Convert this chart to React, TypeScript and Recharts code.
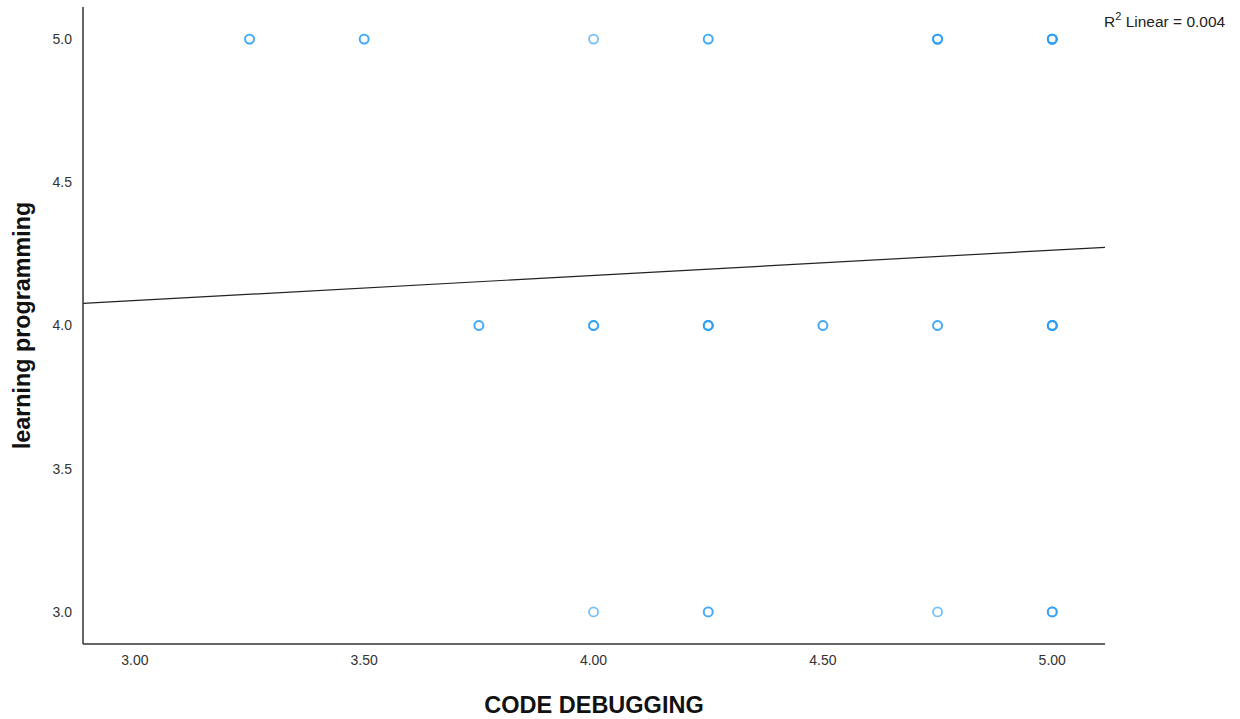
import { ScatterChart, Scatter, XAxis, YAxis, ReferenceLine } from 'recharts';

// CODE DEBUGGING score, learning programming score, and number of overlapping cases
const debugScores = [3.25, 3.5, 4.0, 4.25, 4.75, 5.0, 3.75, 4.0, 4.25, 4.5, 4.75, 5.0, 4.0, 4.25, 4.75, 5.0];
const programmingScores = [5, 5, 5, 5, 5, 5, 4, 4, 4, 4, 4, 4, 3, 3, 3, 3];
const caseCounts = [2, 2, 1, 2, 4, 5, 2, 3, 4, 2, 2, 5, 1, 2, 1, 3];

// linear fit line endpoints (R² = 0.004)
const fitLine = [
  { x: 2.887, y: 4.077 },
  { x: 5.115, y: 4.273 },
];

const xTicks = [3.0, 3.5, 4.0, 4.5, 5.0];
const yTicks = [3.0, 3.5, 4.0, 4.5, 5.0];

const points: { x: number; y: number }[] = [];
debugScores.forEach((x, i) => {
  for (let k = 0; k < caseCounts[i]; k++) points.push({ x, y: programmingScores[i] });
});

const Ring = (props: any) => {
  const { cx, cy } = props;
  if (cx == null || cy == null) return null;
  return <circle cx={cx} cy={cy} r={4.5} fill="none" stroke="#2a9ef7" strokeOpacity={0.65} strokeWidth={1.8} />;
};

export default function App() {
  const font = 'Arial, "Liberation Sans", sans-serif';
  return (
    <div style={{ position: 'absolute', left: 0, top: 0, width: 1240, height: 719, background: '#fff', fontFamily: font }}>
      <ScatterChart width={1240} height={719} margin={{ top: 7, right: 135, bottom: 0, left: 0 }}>
        <XAxis
          type="number"
          dataKey="x"
          domain={[2.887, 5.115]}
          allowDataOverflow
          ticks={xTicks}
          tickFormatter={(v: number) => v.toFixed(2)}
          tickLine={false}
          tickMargin={5}
          height={75}
          stroke="#333"
          strokeWidth={1.5}
          tick={{ fill: '#333', fontSize: 14, fontFamily: font }}
          label={{ value: 'CODE DEBUGGING', position: 'insideBottom', offset: 6, fill: '#111', fontSize: 23.5, fontWeight: 'bold', fontFamily: font }}
        />
        <YAxis
          type="number"
          dataKey="y"
          domain={[2.888, 5.112]}
          allowDataOverflow
          ticks={yTicks}
          tickFormatter={(v: number) => v.toFixed(1)}
          tickLine={false}
          tickMargin={5}
          width={83}
          stroke="#333"
          strokeWidth={1.5}
          tick={{ fill: '#333', fontSize: 14, fontFamily: font }}
          label={{ value: 'learning programming', angle: -90, position: 'insideLeft', offset: 22, textAnchor: 'middle', fill: '#111', fontSize: 23.3, fontWeight: 'bold', fontFamily: font }}
        />
        <ReferenceLine segment={fitLine} stroke="#222" strokeWidth={1.2} />
        <Scatter data={points} shape={Ring} isAnimationActive={false} />
      </ScatterChart>
      <div style={{ position: 'absolute', left: 1104, top: 14, fontSize: 15.5, lineHeight: 1, color: '#222', whiteSpace: 'nowrap' }}>
        R<sup style={{ fontSize: 11, verticalAlign: 'top', lineHeight: 1, position: 'relative', top: -3 }}>2</sup> Linear = 0.004
      </div>
    </div>
  );
}
